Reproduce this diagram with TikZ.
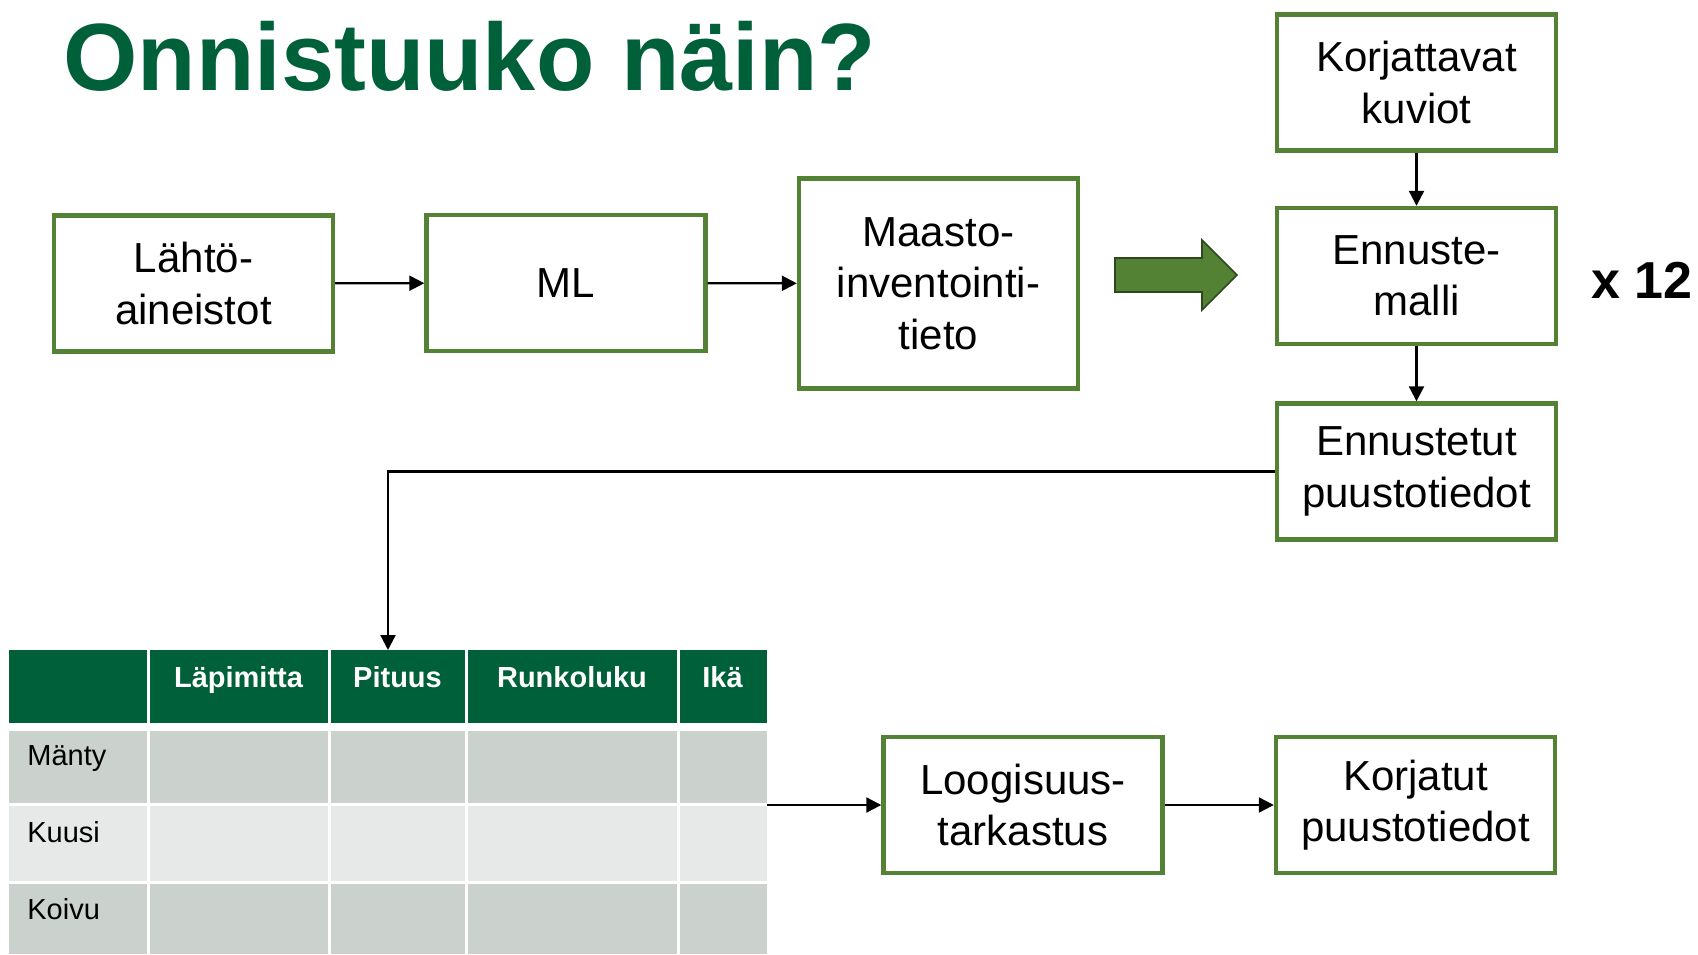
\documentclass[tikz,border=0pt]{standalone}
\usepackage{fontspec}
\setmainfont{Liberation Sans}
\usetikzlibrary{arrows.meta}
\definecolor{boxgreen}{HTML}{548235}
\definecolor{darkgreen}{HTML}{00603A}
\definecolor{rowA}{HTML}{CBD1CD}
\definecolor{rowB}{HTML}{E6E9E7}
\begin{document}
\begin{tikzpicture}[x=0.5pt,y=-0.5pt,
  flowbox/.style={draw=boxgreen, line width=2.2pt, fill=white, align=center, inner sep=0pt,
    minimum width=139.5pt, minimum height=68pt, font=\fontsize{21}{25.7}\selectfont},
  conn/.style={line width=1.1pt, -{Triangle[length=7.5pt,width=7.5pt]}},
  hdr/.style={anchor=base, inner sep=0pt, text=white, font=\fontsize{14.5}{16}\selectfont\bfseries},
  rowlab/.style={anchor=base west, inner sep=0pt, font=\fontsize{14.5}{16}\selectfont},
]
\useasboundingbox (0,0) rectangle (1698,954);
\fill[white] (0,0) rectangle (1698,954);

% title
\node[anchor=base west, inner sep=0pt, text=darkgreen, font=\fontsize{47.8}{52}\selectfont\bfseries] (title) at (63,90) {Onnistuuko näin?};

% boxes
\node[flowbox] (lahto) at (193.5,283.5) {Lähtö-\\aineistot};
\node[flowbox] (ml) at (566,283) {ML};
\node[flowbox, minimum height=105pt] (maasto) at (938.5,283.5) {Maasto-\\inventointi-\\tieto};
\node[flowbox] (korj) at (1416.5,82.5) {Korjattavat\\kuviot};
\node[flowbox] (enn) at (1416.5,276) {Ennuste-\\malli};
\node[flowbox] (ent) at (1416.5,471.5) {Ennustetut\\puustotiedot};
\node[flowbox] (loog) at (1023,805) {Loogisuus-\\tarkastus};
\node[flowbox] (korjatut) at (1415.5,805) {Korjatut\\puustotiedot};

\node[anchor=base west, inner sep=0pt, font=\fontsize{26}{30}\selectfont\bfseries] (x12) at (1591,298) {x 12};

% big arrow
\draw[fill=boxgreen, draw=boxgreen!55!black, line width=0.8pt]
  (1115,258) -- (1202,258) -- (1202,240) -- (1237,275) -- (1202,310) -- (1202,292) -- (1115,292) -- cycle;

% table
\fill[darkgreen] (9,650) rectangle (767,723);
\fill[rowA] (9,731) rectangle (767,803);
\fill[rowB] (9,806) rectangle (767,881);
\fill[rowA] (9,884) rectangle (767,954);
\foreach \x in {148,329,466,678} \fill[white] (\x-1.5,650) rectangle (\x+1.5,954);

\node[hdr] (h1) at (238.5,687) {Läpimitta};
\node[hdr] (h2) at (397.5,687) {Pituus};
\node[hdr] (h3) at (572,687) {Runkoluku};
\node[hdr] (h4) at (722.5,687) {Ikä};
\node[rowlab] (r1) at (27,765) {Mänty};
\node[rowlab] (r2) at (27,842) {Kuusi};
\node[rowlab] (r3) at (27,919) {Koivu};

\coordinate (tabtop) at (388,650);
\coordinate (tabright) at (767,805);

% connectors
\draw[conn] (lahto) -- (ml);
\draw[conn] (ml) -- (maasto);
\draw[conn] (korj) -- (enn);
\draw[conn] (enn) -- (ent);
\draw[conn] (ent.west) -| (tabtop);
\draw[conn] (tabright) -- (loog);
\draw[conn] (loog) -- (korjatut);
\end{tikzpicture}
\end{document}
